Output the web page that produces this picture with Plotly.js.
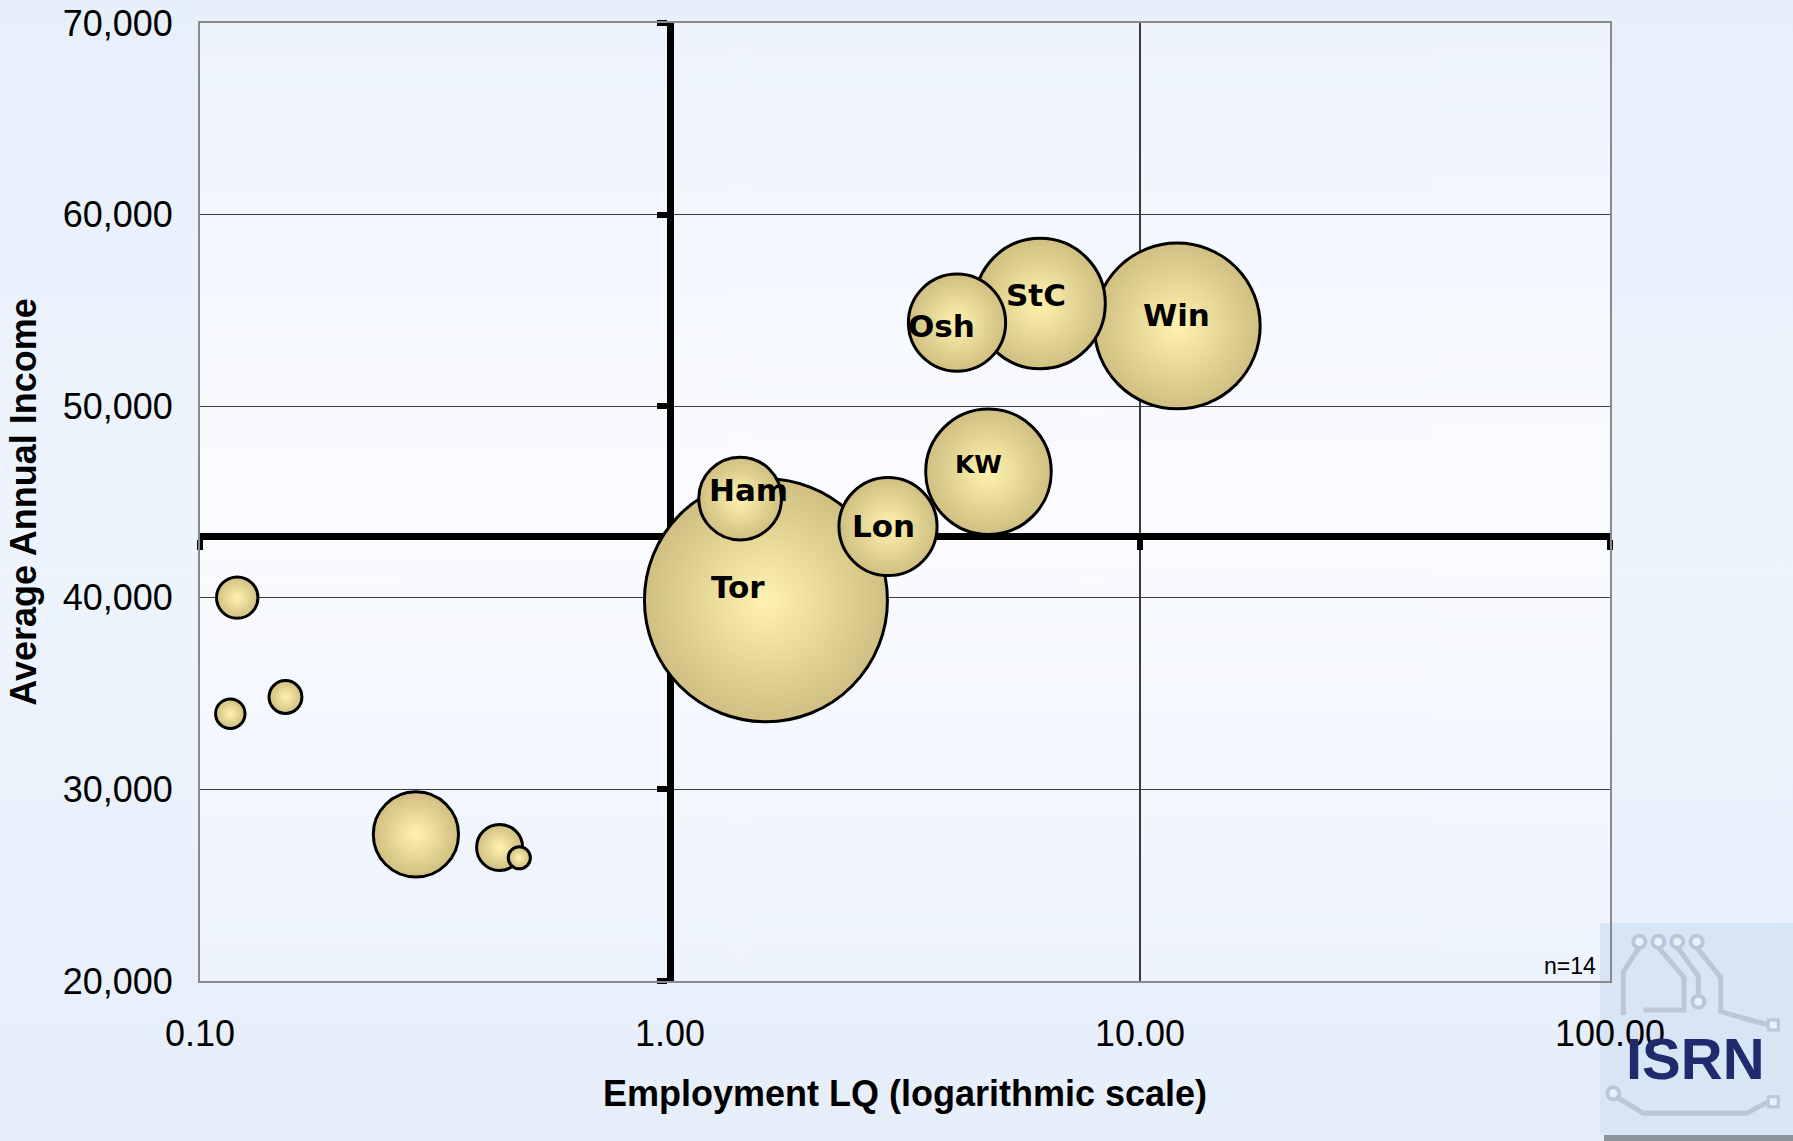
<!DOCTYPE html>
<html><head><meta charset="utf-8">
<script src="https://cdn.plot.ly/plotly-3.0.1.min.js"></script>
<style>
html,body{margin:0;padding:0;}
body{background:linear-gradient(to bottom,#E7EFFB 0%,#EEF4FD 50%,#E6EEFA 100%);}
#chart{width:1793px;height:1141px;}
</style>
</head><body><div id="chart"></div>
<script>
// ---- data ----
const labels       = ['Tor', 'Win', 'StC', 'KW', 'Lon', 'Osh', '', 'Ham', '', '', '', '', ''];
const employmentLQ = [1.60, 12.0, 6.13, 4.76, 2.91, 4.08, 0.288, 1.41, 0.434, 0.120, 0.152, 0.116, 0.478];
const avgIncome    = [39870, 54190, 55360, 46580, 43720, 54360, 27650, 45180, 26970, 40010, 34820, 33950, 26430];
const bubbleSize   = [100, 46.6, 28.8, 26.7, 16.3, 16.0, 12.3, 11.6, 3.59, 2.91, 1.83, 1.47, 0.83];
const xTickVals = [0.1, 1, 10, 100];
const xTickText = ['0.10', '1.00', '10.00', '100.00'];
const yRange = [20000, 70000];
const crossIncome = 43200;   // horizontal reference line
const crossLQ = 1;           // vertical reference line
const sampleNote = 'n=14';

// ---- styles ----
const labelShift = {Tor:[-28,13], Win:[-1,11], StC:[-4,9], KW:[-10,7], Lon:[-5,1], Osh:[-16,-3], Ham:[8,9]};
const labelFontSize = {KW:25};

// bubbles drawn biggest first so smaller ones sit on top
const order = bubbleSize.map((s,i)=>i).sort((a,b)=>bubbleSize[b]-bubbleSize[a]);

const bubbles = {
  type:'scatter', mode:'markers', xaxis:'x', yaxis:'y',
  x: order.map(i=>employmentLQ[i]),
  y: order.map(i=>avgIncome[i]),
  marker:{
    size: order.map(i=>bubbleSize[i]),
    sizemode:'area', sizeref: 100/(2*121.5*121.5),
    color:'#CFBF82',
    gradient:{type:'radial', color:'#FFF2AE'},
    line:{color:'#000000', width:3},
    opacity:1
  },
  hoverinfo:'skip', showlegend:false
};
const dummy = {type:'scatter', mode:'markers', x:[], y:[], xaxis:'x2', yaxis:'y2', showlegend:false, hoverinfo:'skip'};

// label annotations
const annotations = [];
labels.forEach((t,i)=>{
  if(!t) return;
  const sh = labelShift[t] || [0,0];
  annotations.push({
    x: Math.log10(employmentLQ[i]), y: avgIncome[i], xref:'x', yref:'y',
    text: t, showarrow:false, xshift: sh[0], yshift: sh[1],
    font:{family:'DejaVu Sans, Verdana, sans-serif', size: labelFontSize[t] || 31, color:'#000', weight:'bold'}
  });
});

// pixel helpers for the logo (plot area: x 200..1610, y 23..981)
const L=200, R=1610, T=23, B=981;
const px = x => (x-L)/(R-L);
const py = y => (B-y)/(B-T);
const zx = v => 1590 + v/3, zy = v => 900 + v/3;

annotations.push({
  x: px(1598), y: py(966), xref:'paper', yref:'paper', xanchor:'right', yanchor:'middle',
  text: sampleNote, showarrow:false,
  font:{family:'Liberation Sans, Arial, sans-serif', size:23, color:'#000'}
});
annotations.push({
  x: px(1695), y: py(1058), xref:'paper', yref:'paper', xanchor:'center', yanchor:'middle',
  text: 'ISRN', showarrow:false,
  font:{family:'Liberation Sans, Arial, sans-serif', size:58, color:'#1F2B6C', weight:'bold'}
});

// logo shapes
const circ = '#B9C7D9';
function pathFromZoom(pts){
  return pts.map((p,k)=>(k?'L':'M')+px(zx(p[0])).toFixed(5)+','+py(zy(p[1])).toFixed(5)).join(' ');
}
const shapes = [
  {type:'rect', xref:'paper', yref:'paper', x0:px(1604), x1:px(1793), y0:py(1141), y1:py(1134), fillcolor:'#8F959D', line:{width:0}, layer:'below'},
  {type:'rect', xref:'paper', yref:'paper', x0:px(1600), x1:px(1793), y0:py(1135), y1:py(923), fillcolor:'#D8E5F5', line:{width:0}, layer:'below'}
];
const tracks = [
  [[148,142],[100,215],[100,345]],
  [[205,142],[282,232],[282,330],[160,330]],
  [[262,142],[325,228],[325,290]],
  [[320,142],[392,232],[392,335],[535,375]],
  [[82,592],[160,640],[470,640],[535,605]]
];
tracks.forEach(t=>shapes.push({type:'path', xref:'paper', yref:'paper', path:pathFromZoom(t), line:{color:circ, width:5}, layer:'below'}));
[[148,125],[205,125],[262,125],[320,125],[325,305],[70,580]].forEach(c=>{
  const cx=zx(c[0]), cy=zy(c[1]), r=6;
  shapes.push({type:'circle', xref:'paper', yref:'paper', x0:px(cx-r), x1:px(cx+r), y0:py(cy+r), y1:py(cy-r), fillcolor:'#E8F0FA', line:{color:circ, width:4}, layer:'below'});
});
[[550,375],[550,605]].forEach(c=>{
  const cx=zx(c[0]), cy=zy(c[1]), r=5;
  shapes.push({type:'rect', xref:'paper', yref:'paper', x0:px(cx-r), x1:px(cx+r), y0:py(cy+r), y1:py(cy-r), fillcolor:'#E8F0FA', line:{color:circ, width:3}, layer:'below'});
});

// plot-area gradient
const cv = document.createElement('canvas'); cv.width=4; cv.height=200;
const ctx = cv.getContext('2d'); const g = ctx.createLinearGradient(0,0,0,200);
g.addColorStop(0,'#EDF3FD'); g.addColorStop(0.5,'#FBFCFF'); g.addColorStop(1,'#EDF3FD');
ctx.fillStyle=g; ctx.fillRect(0,0,4,200);

const tickFont = {family:'Liberation Sans, Arial, sans-serif', size:36, color:'#000'};
const titleFont = {family:'Liberation Sans, Arial, sans-serif', size:36, color:'#000', weight:'bold'};

const layout = {
  width:1793, height:1141,
  margin:{l:L, r:1793-R, t:T, b:1141-B, pad:0},
  paper_bgcolor:'rgba(0,0,0,0)', plot_bgcolor:'rgba(0,0,0,0)',
  showlegend:false,
  images:[{source:cv.toDataURL(), xref:'paper', yref:'paper', x:0, y:1, sizex:1, sizey:1, sizing:'stretch', xanchor:'left', yanchor:'top', layer:'below'}],
  xaxis:{
    type:'log', range:[Math.log10(xTickVals[0]), Math.log10(xTickVals[3])],
    tickvals:xTickVals, ticktext:xTickText, ticks:'', ticklabelstandoff:20,
    showgrid:true, gridcolor:'#3A3A3A', gridwidth:1.3,
    showline:true, mirror:true, linecolor:'#8A8A8A', linewidth:2,
    zeroline:false, tickfont:tickFont,
    title:{text:'Employment LQ (logarithmic scale)', font:titleFont, standoff:28}
  },
  yaxis:{
    range:yRange, dtick:10000, tickformat:',d', ticks:'', ticklabelstandoff:18,
    showgrid:true, gridcolor:'#3A3A3A', gridwidth:1.3,
    showline:true, mirror:true, linecolor:'#8A8A8A', linewidth:2,
    zeroline:false, tickfont:tickFont,
    title:{text:'Average Annual Income', font:titleFont, standoff:15}
  },
  xaxis2:{
    type:'log', overlaying:'x', anchor:'free',
    position:(crossIncome-yRange[0])/(yRange[1]-yRange[0]),
    range:[Math.log10(xTickVals[0]), Math.log10(xTickVals[3])],
    tickvals:xTickVals, showticklabels:false, ticks:'outside', ticklen:10, tickwidth:6, tickcolor:'#000',
    showline:true, linecolor:'#000', linewidth:7, showgrid:false, zeroline:false, layer:'below traces', side:'bottom'
  },
  yaxis2:{
    overlaying:'y', anchor:'free',
    position:(Math.log10(crossLQ)-Math.log10(xTickVals[0]))/(Math.log10(xTickVals[3])-Math.log10(xTickVals[0])),
    range:yRange, dtick:10000, showticklabels:false, ticks:'outside', ticklen:10, tickwidth:6, tickcolor:'#000',
    showline:true, linecolor:'#000', linewidth:7, showgrid:false, zeroline:false, layer:'below traces', side:'left'
  },
  shapes:shapes,
  annotations:annotations
};

Plotly.newPlot('chart', [dummy, bubbles], layout, {displayModeBar:false, staticPlot:true});
</script>
</body></html>
